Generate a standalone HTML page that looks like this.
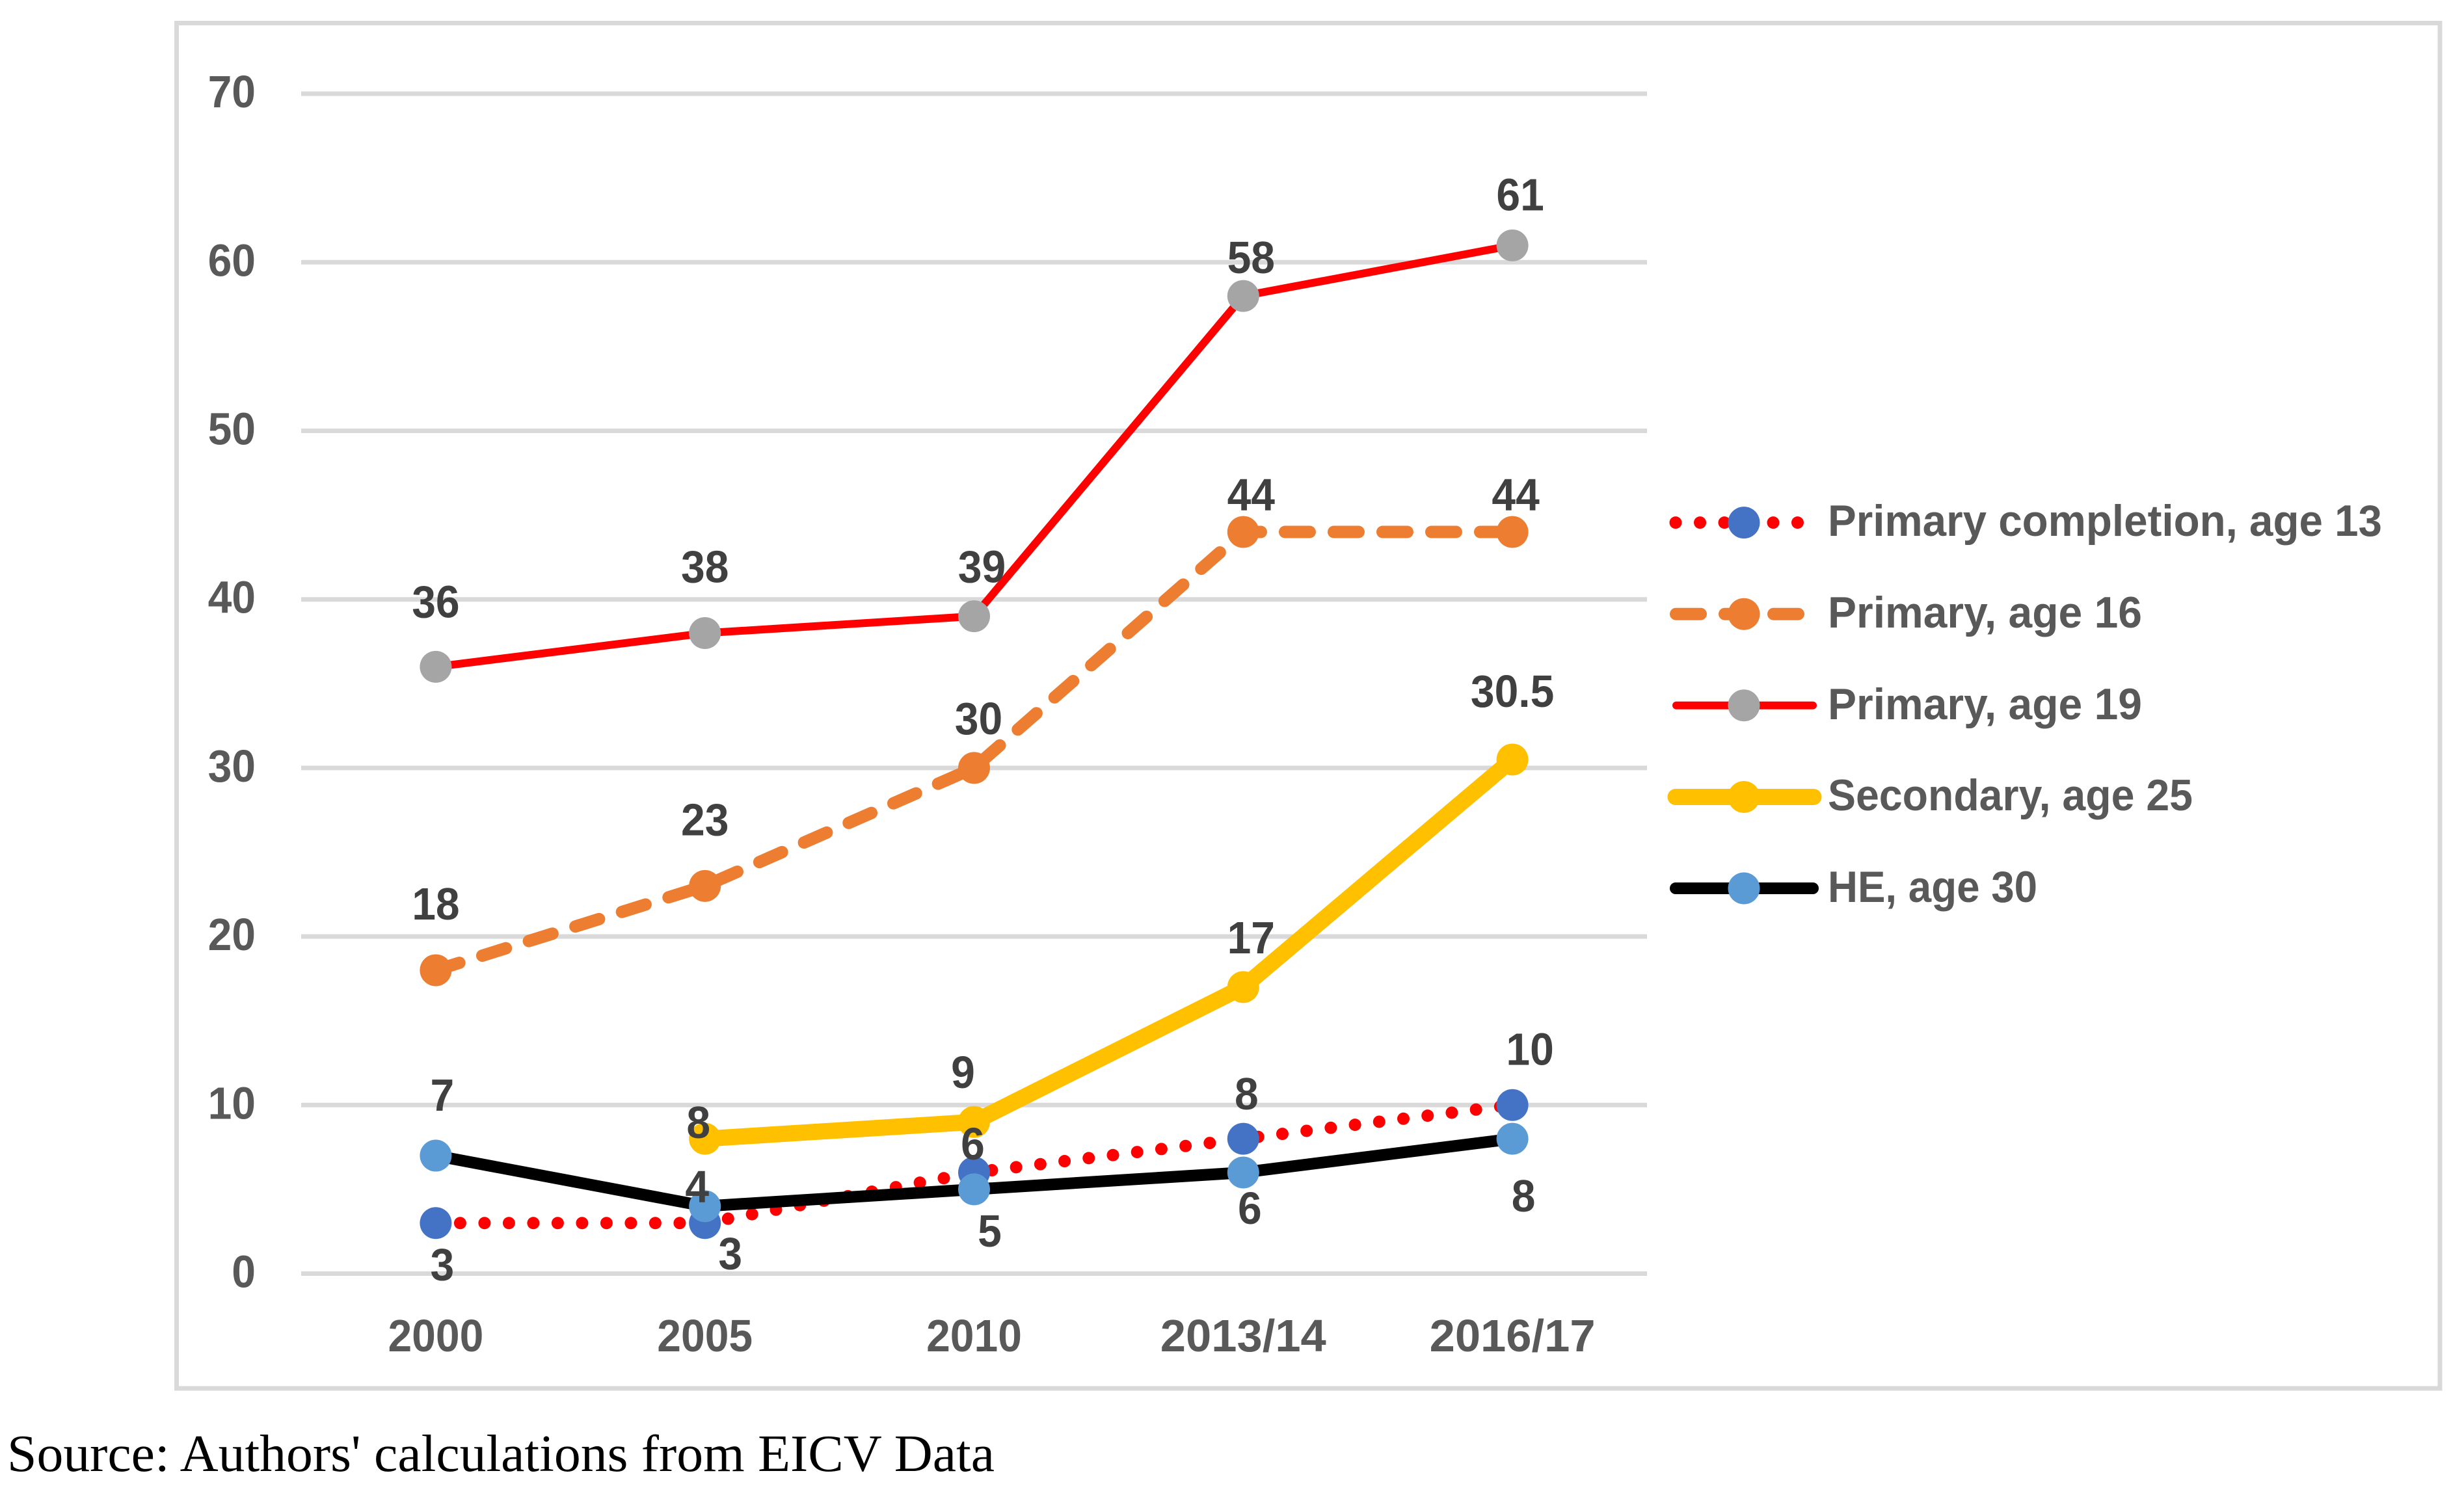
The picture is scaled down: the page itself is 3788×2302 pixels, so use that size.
<!DOCTYPE html>
<html lang="en">
<head>
<meta charset="utf-8">
<title>Educational attainment chart</title>
<style>
html,body{margin:0;padding:0;background:#fff;width:3788px;height:2302px;overflow:hidden}
svg{display:block}
text{font-family:"Liberation Sans",sans-serif;font-weight:700}
</style>
</head>
<body>
<svg id="chart" xmlns="http://www.w3.org/2000/svg" width="3788" height="2302" viewBox="0 0 3788 2302">
  <rect x="271.5" y="35.5" width="3479.5" height="2099.5" fill="#fff" stroke="#d9d9d9" stroke-width="7"/>
  <g id="grid"></g>
  <g id="yticks"></g>
  <g id="xticks"></g>
  <g id="series"></g>
  <g id="labels"></g>
  <g>
    <g>
      <line x1="2576" y1="803.6" x2="2772" y2="803.6" stroke="#ff0000" stroke-width="19" stroke-linecap="round" stroke-dasharray="0 37.5"/>
      <circle cx="2681" cy="803.6" r="24.5" fill="#4472c4"/>
      <text x="2810" y="824" font-size="68" fill="#595959" textLength="852" lengthAdjust="spacingAndGlyphs">Primary completion, age 13</text>
    </g>
    <g>
      <line x1="2576.5" y1="944.2" x2="2764.5" y2="944.2" stroke="#ed7d31" stroke-width="19" stroke-linecap="round" stroke-dasharray="38 37"/>
      <circle cx="2681" cy="944.2" r="24.5" fill="#ed7d31"/>
      <text x="2810" y="965" font-size="68" fill="#595959" textLength="483" lengthAdjust="spacingAndGlyphs">Primary, age 16</text>
    </g>
    <g>
      <line x1="2577" y1="1084.8" x2="2787" y2="1084.8" stroke="#ff0000" stroke-width="12" stroke-linecap="round"/>
      <circle cx="2681" cy="1084.8" r="24.5" fill="#a5a5a5"/>
      <text x="2810" y="1106" font-size="68" fill="#595959" textLength="483" lengthAdjust="spacingAndGlyphs">Primary, age 19</text>
    </g>
    <g>
      <line x1="2576" y1="1225.5" x2="2788" y2="1225.5" stroke="#ffc000" stroke-width="25" stroke-linecap="round"/>
      <circle cx="2681" cy="1225.5" r="24.5" fill="#ffc000"/>
      <text x="2810" y="1246" font-size="68" fill="#595959" textLength="561" lengthAdjust="spacingAndGlyphs">Secondary, age 25</text>
    </g>
    <g>
      <line x1="2576" y1="1366" x2="2787" y2="1366" stroke="#000000" stroke-width="18" stroke-linecap="round"/>
      <circle cx="2681" cy="1366" r="24.5" fill="#5b9bd5"/>
      <text x="2810" y="1387" font-size="68" fill="#595959" textLength="322" lengthAdjust="spacingAndGlyphs">HE, age 30</text>
    </g>
  </g>
  <text x="11" y="2262" font-size="80" fill="#000" style="font-family:'Liberation Serif',serif;font-weight:400" textLength="1518" lengthAdjust="spacingAndGlyphs">Source: Authors' calculations from EICV Data</text>
</svg>
<script>
const categories = ['2000', '2005', '2010', '2013/14', '2016/17'];
const yTickValues = [0, 10, 20, 30, 40, 50, 60, 70];
const primaryCompletion13 = [3, 3, 6, 8, 10];
const primary16 = [18, 23, 30, 44, 44];
const primary19 = [36, 38, 39, 58, 61];
const secondary25 = [null, 8, 9, 17, 30.5];
const he30 = [7, 4, 5, 6, 8];

const NS = 'http://www.w3.org/2000/svg';
const plotLeft = 463, plotRight = 2532, yZero = 1958.5, yPerUnit = 25.92;
const tallFont = 70, widthFont = 66;
function xAt(i) { return plotLeft + (plotRight - plotLeft) * (i + 0.5) / categories.length; }
function yAt(v) { return yZero - v * yPerUnit; }
function make(tag, parent, attrs) {
  const el = document.createElementNS(NS, tag);
  Object.keys(attrs).forEach(function (k) { el.setAttribute(k, attrs[k]); });
  parent.appendChild(el);
  return el;
}
/* taller glyphs at the narrower width of the original typeface */
function condense(t, width) {
  const w = width || t.getComputedTextLength() * widthFont / tallFont;
  t.setAttribute('textLength', w);
  t.setAttribute('lengthAdjust', 'spacingAndGlyphs');
}

const gridG = document.getElementById('grid');
const yG = document.getElementById('yticks');
yTickValues.forEach(function (v) {
  const line = make('line', gridG, { x1: plotLeft, x2: plotRight, y1: yAt(v), y2: yAt(v), stroke: '#d9d9d9', 'stroke-width': 7 });
  
  
  const t = make('text', yG, { x: 393, y: yAt(v) + 21, 'text-anchor': 'end', 'font-size': tallFont, fill: '#595959' });
  
  
  t.textContent = v;
  condense(t);
});

const xG = document.getElementById('xticks');
categories.forEach(function (c, i) {
  const t = make('text', xG, { x: xAt(i), y: 2078, 'text-anchor': 'middle', 'font-size': tallFont, fill: '#595959' });
  
  
  t.textContent = c;
  condense(t, c.length > 4 ? 255 : 0);
});

const seriesList = [
  { key: 'primary-completion-13', values: primaryCompletion13, color: '#ff0000', width: 19, dash: '0 37.5', marker: '#4472c4' },
  { key: 'primary-16', values: primary16, color: '#ed7d31', width: 19, dash: '38 37', marker: '#ed7d31' },
  { key: 'primary-19', values: primary19, color: '#ff0000', width: 12, dash: null, marker: '#a5a5a5' },
  { key: 'secondary-25', values: secondary25, color: '#ffc000', width: 25, dash: null, marker: '#ffc000' },
  { key: 'he-30', values: he30, color: '#000000', width: 18, dash: null, marker: '#5b9bd5' }
];

/* hand-placed label nudges relative to each point, as in the source chart */
const labelNudges = {
  'primary-completion-13': [[10, 65], [39, 48], [-2, -43], [5, -68], [27, -85]],
  'primary-16': [[0, -101], [0, -101], [7, -75], [12, -56], [5, -56]],
  'primary-19': [[0, -99], [0, -101], [12, -75], [12, -58], [12, -77]],
  'secondary-25': [null, [-10, -24], [-17, -75], [12, -75], [0, -104]],
  'he-30': [[10, -92], [-12, -29], [24, 65], [10, 56], [17, 89]]
};

const seriesG = document.getElementById('series');
const labelG = document.getElementById('labels');
seriesList.forEach(function (s) {
  const pts = [];
  s.values.forEach(function (v, i) { if (v !== null) pts.push([xAt(i), yAt(v)]); });
  const attrs = { points: pts.map(function (p) { return p.join(','); }).join(' '), fill: 'none', stroke: s.color, 'stroke-width': s.width, 'stroke-linejoin': 'round', 'stroke-linecap': 'round' };
  if (s.dash) attrs['stroke-dasharray'] = s.dash;
  const line = make('polyline', seriesG, attrs);
  
  
  s.values.forEach(function (v, i) {
    if (v === null) return;
    const dot = make('circle', seriesG, { cx: xAt(i), cy: yAt(v), r: 24.5, fill: s.marker });
    
    
    const n = labelNudges[s.key][i];
    const t = make('text', labelG, { x: xAt(i) + n[0], y: yAt(v) + n[1] + 23, 'text-anchor': 'middle', 'font-size': tallFont, fill: '#404040' });
    
    
    t.textContent = v;
    condense(t);
  });
});
</script>
</body>
</html>
